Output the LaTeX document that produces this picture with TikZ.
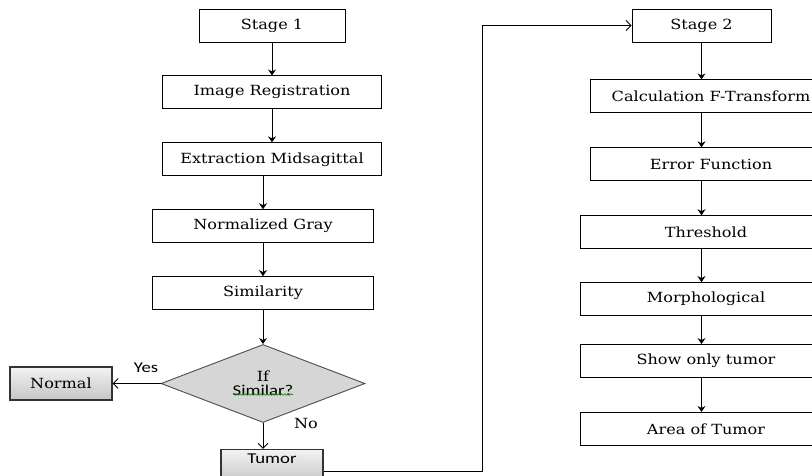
\documentclass[tikz,border=0pt]{standalone}
\usepackage{fontspec}
\setmainfont[FakeStretch=1.15]{DejaVu Serif}
\setsansfont[FakeStretch=1.25]{Carlito}
\usepackage{tikz}
\usetikzlibrary{arrows.meta,shapes.geometric,calc,decorations.pathmorphing}
\usetikzlibrary{positioning}
\tikzset{
    block/.style = {draw, minimum height=33pt, inner sep=0pt, align=center},
    grey/.style = {draw=black!80, line width=1.2pt, top color=gray!10, bottom color=gray!45,
                 minimum width=102pt, minimum height=33pt, inner sep=0pt},
    decide/.style = {diamond, draw=black!70, fill=gray!32, aspect=2.6,
                 minimum width=204pt, minimum height=78pt, inner sep=0pt, align=center},
    sanslab/.style = {font=\sffamily\fontsize{15}{16}\selectfont},
    open/.style = {-{Straight Barb[length=5pt,width=10pt]}},
}

\begin{document}
\begin{tikzpicture}[->,>={Stealth[length=6pt,width=8pt]},x=1pt,y=-1pt,line width=0.9pt,
    font=\fontsize{14}{15}\selectfont, node distance=33pt]
\useasboundingbox (0,0) rectangle (812,476);
\clip (0,0) rectangle (812,476);

 \node (stage1) [block,minimum width=146pt] at (272,25.5) {Stage 1};
 \node (ireg)   [block,minimum width=219pt, below=of stage1] {Image Registration};
 \node (emid)   [block,minimum width=219pt, below=of ireg] {Extraction Midsagittal};
 \node (ngray)  [block,minimum width=221pt,xshift=-9pt, below=of emid] {Normalized Gray};
 \node (simil)  [block,minimum width=221pt, below=of ngray] {Similarity};
 \node (dec)    [decide, below=34pt of simil] {If\\[-1pt]{\sffamily\fontsize{15}{16}\selectfont Similar?}};
 \node (normal) [grey, left=48pt of dec] {Normal};
 \node (tumor)  [grey,sanslab,text depth=15pt,xshift=9pt, below=26pt of dec] {Tumor};
 \node (yes)    [sanslab] at (146,368) {Yes};
 \node (no)     at (306,423) {No};

 \node (stage2) [block,minimum width=139pt] at (701.5,25.5) {Stage 2};
 \node (calc)   [block,minimum width=242pt,xshift=9.5pt, below=37pt of stage2] {Calculation F-Transform};
 \node (err)    [block,minimum width=242pt, below=34pt of calc] {Error Function};
 \node (thr)    [block,minimum width=252pt,xshift=-5pt, below=34pt of err] {Threshold};
 \node (morph)  [block,minimum width=252pt, below=33pt of thr] {Morphological};
 \node (show)   [block,minimum width=252pt, below=28pt of morph] {Show only tumor};
 \node (area)   [block,minimum width=252pt, below=34pt of show] {Area of Tumor};

\draw[->] (stage1) to (ireg);
\draw[->] (ireg) to (emid);
\draw[->] (emid.south -| ngray) to (ngray);
\draw[->] (ngray) to (simil);
\draw[->] (simil) to (dec);
\draw[open] (dec) to (normal);
\draw[open] (dec.south) to (dec.south |- tumor.north);
\draw[open] ([yshift=-5pt]tumor.east) -- ++(159,0) |- (stage2);
% spelling squiggle under the question
\draw[-,line width=0.6pt,green!55!black,decorate,decoration={snake,amplitude=0.8pt,segment length=3pt}]
   ($(dec.center)+(-30,11)$) -- ($(dec.center)+(30,11)$);

\draw[->] (stage2) to (stage2 |- calc.north);
\draw[->] (calc.south -| stage2) to (err.north -| stage2);
\draw[->] (err.south -| stage2) to (thr.north -| stage2);
\draw[->] (thr.south -| stage2) to (morph.north -| stage2);
\draw[->] (morph.south -| stage2) to (show.north -| stage2);
\draw[->] (show.south -| stage2) to (area.north -| stage2);
\end{tikzpicture}
\end{document}
